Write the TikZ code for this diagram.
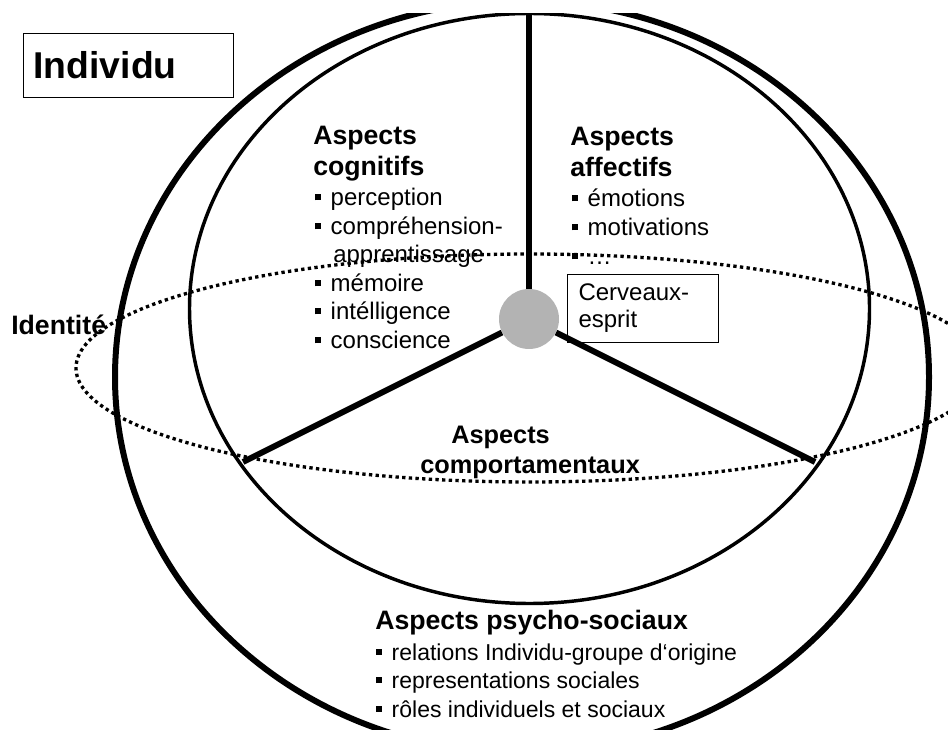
\documentclass[tikz,border=0pt]{standalone}
\usepackage{fontspec}
\setmainfont{Liberation Sans}
\definecolor{hubgray}{RGB}{179,179,179}
% small square bullet followed by the gap before the item text
\newcommand\sqbul{\makebox[11.6pt][l]{\rule[4.3pt]{4.5pt}{4.5pt}}}
\newcommand\smallbul{\makebox[11.6pt][l]{\rule[4.1pt]{4.3pt}{4.3pt}}}
\newcommand\bodysize{\fontsize{18}{21.6}\selectfont}
\newcommand\headsize{\fontsize{20}{24}\selectfont\bfseries}

\begin{document}
\begin{tikzpicture}[x=0.75pt,y=-0.75pt,
  txt/.style={inner sep=0pt, anchor=base west, font=\bodysize},
  smalltxt/.style={inner sep=0pt, anchor=base west, font=\fontsize{17.25}{20.7}\selectfont},
  hd/.style={inner sep=0pt, anchor=base west, font=\headsize},
  smallhd/.style={inner sep=0pt, anchor=base west, font=\fontsize{19}{22.8}\selectfont\bfseries},
  labelbox/.style={draw, line width=0.75pt, inner ysep=0pt, anchor=north west, align=left},
  outerring/.style={draw, line width=4.5pt},
  innerring/.style={draw, line width=2.6pt},
  spoke/.style={draw, line width=4.5pt},
  identity/.style={draw, line width=2.5pt, dash pattern=on 2.5pt off 2.5pt}
]
\useasboundingbox (0,0) rectangle (948,730);

% the two nested spheres, cut off along the top edge
\begin{scope}
  \clip (0,14) rectangle (948,730);
  \path[outerring] (522,377) ellipse [x radius=305.25pt, y radius=282pt];
  \path[innerring] (529.5,308.5) ellipse [x radius=255pt, y radius=221.25pt];
\end{scope}

% centre and the three dividing spokes
\coordinate (spokeT) at (529,14);
\coordinate (spokeL) at (243,462);
\coordinate (spokeR) at (815,462);
\node (hub) [circle, fill=hubgray, minimum size=45pt, inner sep=0pt] at (529,319) {};
\path[spoke] (hub) -- (spokeT);
\path[spoke] (hub) -- (spokeL);
\path[spoke] (hub) -- (spokeR);

% title box
\node (indiv) [labelbox, minimum width=157.5pt, minimum height=48pt, text width=142.5pt,
  inner xsep=7.5pt, font=\fontsize{28}{32}\selectfont\bfseries] at (23,33) {Individu};

% cognitive aspects
\node[hd]  (cogA) at (313,145) {Aspects};
\node[hd]  (cogB) at (313,176) {cognitifs};
\node[txt] (cog1) at (315,206) {\sqbul perception};
\node[txt] (cog2) at (315,235) {\sqbul compréhension-};
\node[txt] (cog3) at (333,263) {apprentissage};
\node[txt] (cog4) at (315,292) {\sqbul mémoire};
\node[txt] (cog5) at (315,320) {\sqbul intélligence};
\node[txt] (cog6) at (315,349) {\sqbul conscience};

% affective aspects
\node[hd]  (affA) at (570,146) {Aspects};
\node[hd]  (affB) at (570,177) {affectifs};
\node[txt] (aff1) at (572,207) {\sqbul émotions};
\node[txt] (aff2) at (572,236) {\sqbul motivations};
\node[txt] (aff3) at (572,265) {\sqbul …};

% brain-mind label
\node (brain) [labelbox, minimum width=113.25pt, minimum height=51pt, text width=96.75pt,
  inner xsep=8.25pt, font=\fontsize{18}{20.25}\selectfont] at (567,274) {Cerveaux-\\esprit};

% behavioural aspects
\node[smallhd] (behA) at (451,443) {Aspects};
\node[smallhd] (behB) at (420,473) {comportamentaux};

% psycho-social aspects
\node[hd]       (psyA) at (375,629) {Aspects psycho-sociaux};
\node[smalltxt] (psy1) at (376,660) {\smallbul relations Individu-groupe d‘origine};
\node[smalltxt] (psy2) at (376,688.5) {\smallbul representations sociales};
\node[smalltxt] (psy3) at (376,717) {\smallbul rôles individuels et sociaux};

% identity ring
\node[hd] (ident) at (11,335) {Identité};
\path[identity] (530,368) ellipse [x radius=340.5pt, y radius=85.5pt];
\end{tikzpicture}
\end{document}
